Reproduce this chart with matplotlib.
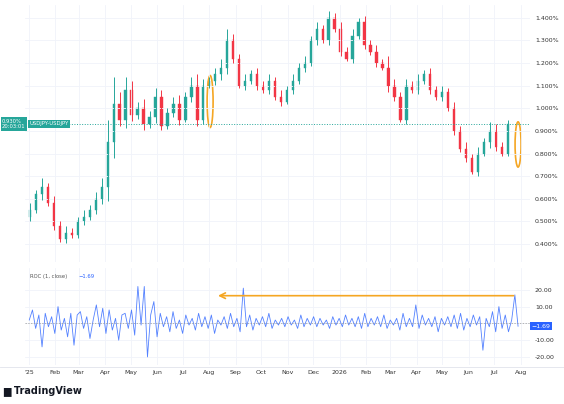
import numpy as np
import pandas as pd
import matplotlib
matplotlib.use('Agg')
from matplotlib import pyplot as plt
from matplotlib.patches import Ellipse
import matplotlib.dates as mdates

# weekly closes, USDJPY-USDJPY spread (%)
closes = [0.55, 0.62, 0.65, 0.58,
          0.48, 0.42, 0.45, 0.44,
          0.50, 0.52, 0.55, 0.60,
          0.65, 0.85, 1.02, 0.95,
          1.08, 0.97, 1.00, 0.93,
          0.96, 1.05, 0.92, 0.98,
          1.02, 0.95, 1.05, 1.10, 0.95,
          1.10, 1.12, 1.15, 1.18,
          1.30, 1.22, 1.10, 1.12,
          1.15, 1.10, 1.08, 1.12, 1.05,
          1.03, 1.08, 1.12, 1.18,
          1.20, 1.30, 1.35, 1.30,
          1.40, 1.35, 1.25, 1.22, 1.32,
          1.38, 1.28, 1.25, 1.20,
          1.18, 1.10, 1.05, 0.95,
          1.10, 1.08, 1.12, 1.15, 1.08,
          1.05, 1.07, 1.00, 0.90,
          0.82, 0.78, 0.72, 0.80,
          0.85, 0.90, 0.83, 0.80, 0.93]
highs_add = [0.03, 0.02, 0.04, 0.02, 0.03, 0.02, 0.03, 0.02, 0.02, 0.03, 0.02, 0.03,
             0.04, 0.10, 0.12, 0.05, 0.06, 0.04, 0.03, 0.04, 0.03, 0.04, 0.03, 0.02,
             0.03, 0.04, 0.02, 0.04, 0.05, 0.03, 0.02, 0.03, 0.04, 0.05, 0.03, 0.02,
             0.03, 0.02, 0.03, 0.02, 0.03, 0.02, 0.03, 0.02, 0.03, 0.02, 0.03, 0.02,
             0.03, 0.02, 0.03, 0.02, 0.03, 0.02, 0.03, 0.02, 0.03, 0.02, 0.03, 0.02,
             0.05, 0.03, 0.02, 0.03, 0.02, 0.03, 0.02, 0.03, 0.02, 0.03, 0.02, 0.03,
             0.02, 0.03, 0.02, 0.03, 0.02, 0.04, 0.03, 0.02, 0.02]
roc = [2, 8, -3, 5, -14, 6, -2, 4, -6, 10, -4, 3, -8, 6, -13, 5, 7, -3, 4, -9,
       2, 11, -2, 9, -6, 8, -4, 3, -10, 5, 6, -3, 8, -7, 22, -1, 22, -20, 5, 13,
       -8, 6, -2, 4, -5, 7, -3, 2, -6, 5, -1, 3, -4, 6, -2, 4, -3, 5, -6, 2,
       -1, 4, -3, 6, -2, 3, -5, 21, -2, 5, -4, 3, -1, 4, -2, 6, -3, 2, -1, 3,
       -2, 4, -1, 2, -3, 5, -2, 3, -1, 4, -2, 3, -1, 2, -3, 4, -1, 3, -2, 5,
       -1, 3, -2, 4, -3, 6, -2, 3, -1, 4, -2, 5, -3, 2, -1, 3, -4, 6, -2, 3,
       -2, 11, -3, 5, -1, 3, -2, 4, -5, 3, -1, 4, -2, 5, -3, 6, -4, 3, -2, 5,
       -1, 4, -16, 3, -2, 7, -5, 10, -3, 5, -5, 2, 17, -1.69]

dates = pd.date_range('2025-01-03', periods=len(closes), freq='7D')
opens = [closes[0] - 0.03] + closes[:-1]
roc_dates = pd.date_range('2025-01-02', '2026-07-29', periods=len(roc))

up_c, dn_c = '#26a69a', '#f23645'
grid_c = '#f0f3fa'

fig = plt.figure(figsize=(5.64, 4.04), dpi=100)
W, H = 564, 404
ax = fig.add_axes([25 / W, 1 - 262 / H, 505 / W, 257 / H])
ax2 = fig.add_axes([25 / W, 1 - 365 / H, 505 / W, 97 / H], sharex=ax)

for d, o, c, h in zip(dates, opens, closes, highs_add):
    col = up_c if c >= o else dn_c
    x = mdates.date2num(d)
    ax.vlines(x, min(o, c) - h * 0.6, max(o, c) + h, color=col, lw=0.7)
    ax.bar(x, max(abs(c - o), 0.004), bottom=min(o, c),
           width=2.8, color=col, edgecolor=col, lw=0.3)

ax.set_ylim(0.32, 1.457)
ax.set_yticks(np.arange(0.4, 1.41, 0.1))
ax.yaxis.tick_right()
ax.set_yticklabels([f'{v:.3f}%' for v in np.arange(0.4, 1.41, 0.1)], fontsize=4.5, color='#333')
ax.axhline(closes[-1], color=up_c, ls=':', lw=0.7)
ax.tick_params(length=0, labelbottom=False)
ax.grid(color=grid_c, lw=0.6)
for s in ax.spines.values():
    s.set_visible(False)

xlim = (mdates.date2num(pd.Timestamp('2024-12-28')), mdates.date2num(pd.Timestamp('2026-08-12')))
ax.set_xlim(*xlim)

# highlight ellipses
ax.add_patch(Ellipse((mdates.date2num(pd.Timestamp('2025-08-02')), 1.03), 7, 0.23,
                     fill=False, ec='#f5a623', lw=1.2))
ax.add_patch(Ellipse((mdates.date2num(pd.Timestamp('2026-07-29')), 0.84), 7, 0.2,
                     fill=False, ec='#f5a623', lw=1.2))

# left labels
fig.text(2 / W, 1 - 124 / H, '0.930%\n20:03:01', fontsize=3.8, color='white', va='center',
         linespacing=1.1, bbox=dict(boxstyle='square,pad=0.25', fc=up_c, ec='none'))
fig.text(29 / W, 1 - 124 / H, 'USDJPY-USDJPY', fontsize=3.8, color='white', va='center',
         bbox=dict(boxstyle='square,pad=0.25', fc=up_c, ec='none'))

# ROC pane
ax2.plot(roc_dates, roc, color='#2962ff', lw=0.6, alpha=0.8)
ax2.axhline(0, color='#999', ls=(0, (2, 2)), lw=0.5)
ax2.set_ylim(-24.8, 33)
ax2.yaxis.tick_right()
ax2.set_yticks([-20, -10, 0, 10, 20])
ax2.set_yticklabels(['-20.00', '-10.00', '', '10.00', '20.00'], fontsize=4.5, color='#333')
ax2.grid(color=grid_c, lw=0.6)
for s in ax2.spines.values():
    s.set_visible(False)
ax2.tick_params(length=0)
ax2.text(0.01, 0.9, 'ROC (1, close)', transform=ax2.transAxes, fontsize=3.8, color='#555')
ax2.text(0.105, 0.9, '\u22121.69', transform=ax2.transAxes, fontsize=3.8, color='#2962ff')
ax2.annotate('', xy=(mdates.date2num(pd.Timestamp('2025-08-08')), 16.5),
             xytext=(mdates.date2num(pd.Timestamp('2026-07-27')), 16.5),
             arrowprops=dict(arrowstyle='->', color='#f5a623', lw=1.2))
ax2.text(1.003, (-1.69 + 24.8) / 57.8, '\u22121.69', transform=ax2.transAxes, fontsize=4.5,
         color='white', va='center',
         bbox=dict(boxstyle='square,pad=0.25', fc='#2962ff', ec='none'))

month_ticks = pd.date_range('2025-02-01', '2026-08-01', freq='MS')
ax2.set_xticks([mdates.date2num(pd.Timestamp('2025-01-02'))] + list(mdates.date2num(month_ticks)))
labs = ["'25"] + [('2026' if d.month == 1 else d.strftime('%b')) for d in month_ticks]
ax2.set_xticklabels(labs, fontsize=4.5, color='#333')

fig.add_artist(plt.Line2D([0, 1], [1 - 367 / H, 1 - 367 / H], color='#e0e3eb', lw=0.6))
fig.text(3 / W, 1 - 391 / H, '\u2587 TradingView', fontsize=7, fontweight='bold', color='#131722', va='center')

fig.savefig('out.png', dpi=100, facecolor='white')
